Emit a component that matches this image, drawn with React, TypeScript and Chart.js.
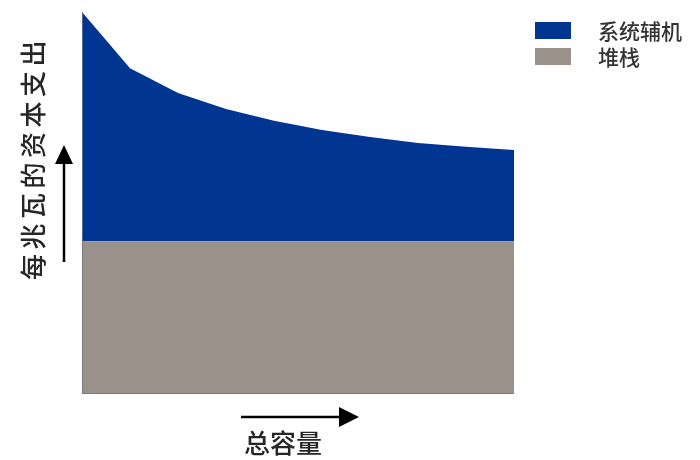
import React, { useEffect, useRef } from "react";
import { Chart, registerables } from "chart.js";

Chart.register(...registerables);

// Capacity steps along the horizontal axis (unlabelled in the drawing)
const capacitySteps = ["1", "2", "3", "4", "5", "6", "7", "8", "9", "10"];
// Stack cost per MW: constant across capacity
const stackCost = [40, 40, 40, 40, 40, 40, 40, 40, 40, 40];
// Balance-of-plant cost per MW: falls with scale
const bopCost = [60, 45.3, 38.8, 34.6, 31.5, 29.1, 27.3, 25.7, 24.7, 23.9];

const seriesLabels = ["系统辅机", "堆栈"];
const yTitle = "每兆瓦的资本支出";
const xTitle = "总容量";

const BLUE = "#003591";
const GRAY = "#9a918a";
const TEXT = "#262626";
const FONT = '"Noto Sans CJK SC", "Noto Sans", sans-serif';

// Draws the arrowed axis titles, the plot edges and the legend
const decorations = {
  id: "decorations",
  afterDraw(chart: any) {
    const { ctx, chartArea } = chart;
    ctx.save();

    // thin edge lines on the left and bottom of the plot
    ctx.strokeStyle = "rgba(110,118,145,0.75)";
    ctx.lineWidth = 1;
    ctx.beginPath();
    ctx.moveTo(chartArea.left + 0.5, chartArea.top);
    ctx.lineTo(chartArea.left + 0.5, chartArea.bottom - 0.5);
    ctx.lineTo(chartArea.right, chartArea.bottom - 0.5);
    ctx.stroke();

    // vertical arrow
    ctx.strokeStyle = "#000";
    ctx.fillStyle = "#000";
    ctx.lineWidth = 2.5;
    ctx.beginPath();
    ctx.moveTo(64, 262);
    ctx.lineTo(64, 160);
    ctx.stroke();
    ctx.beginPath();
    ctx.moveTo(64, 145);
    ctx.lineTo(55, 164);
    ctx.lineTo(73, 164);
    ctx.closePath();
    ctx.fill();

    // horizontal arrow
    ctx.beginPath();
    ctx.moveTo(241, 417);
    ctx.lineTo(345, 417);
    ctx.stroke();
    ctx.beginPath();
    ctx.moveTo(359, 417);
    ctx.lineTo(339, 407);
    ctx.lineTo(339, 427);
    ctx.closePath();
    ctx.fill();

    // y title, rotated
    ctx.fillStyle = TEXT;
    ctx.font = `500 26px ${FONT}`;
    ctx.textBaseline = "middle";
    ctx.textAlign = "center";
    ctx.save();
    ctx.translate(33, 160);
    ctx.rotate(-Math.PI / 2);
    (ctx as any).letterSpacing = "4.5px";
    ctx.fillText(yTitle, 2, 0);
    ctx.restore();

    // x title
    ctx.fillText(xTitle, 283, 443);

    // legend
    const colors = [BLUE, GRAY];
    ctx.textAlign = "left";
    ctx.font = `500 21px ${FONT}`;
    ctx.fillStyle = "#333";
    seriesLabels.forEach((label, i) => {
      const y = 22 + i * 26;
      ctx.fillStyle = colors[i];
      ctx.fillRect(535, y, 36, 17);
      ctx.fillStyle = "#333";
      ctx.fillText(label, 598, y + 9);
    });

    ctx.restore();
  },
};

export default function App() {
  const canvasRef = useRef<HTMLCanvasElement | null>(null);

  useEffect(() => {
    const canvas = canvasRef.current;
    if (!canvas) return;
    const chart = new Chart(canvas, {
      type: "line",
      data: {
        labels: capacitySteps,
        datasets: [
          {
            label: seriesLabels[1],
            data: stackCost,
            backgroundColor: GRAY,
            borderWidth: 0,
            pointRadius: 0,
            fill: "origin",
          },
          {
            label: seriesLabels[0],
            data: bopCost,
            backgroundColor: BLUE,
            borderWidth: 0,
            pointRadius: 0,
            fill: "-1",
          },
        ],
      },
      options: {
        responsive: false,
        animation: false,
        layout: { padding: { left: 82, top: 12, right: 186, bottom: 66 } },
        plugins: { legend: { display: false }, tooltip: { enabled: false } },
        scales: {
          x: { display: false, offset: false },
          y: { display: false, stacked: true, min: 0, max: 100 },
        },
        elements: { line: { tension: 0 } },
      },
      plugins: [decorations],
    });
    return () => chart.destroy();
  }, []);

  return (
    <div style={{ position: "absolute", left: 0, top: 0, width: 700, height: 460, background: "#fff" }}>
      <canvas ref={canvasRef} width={700} height={460} />
    </div>
  );
}
